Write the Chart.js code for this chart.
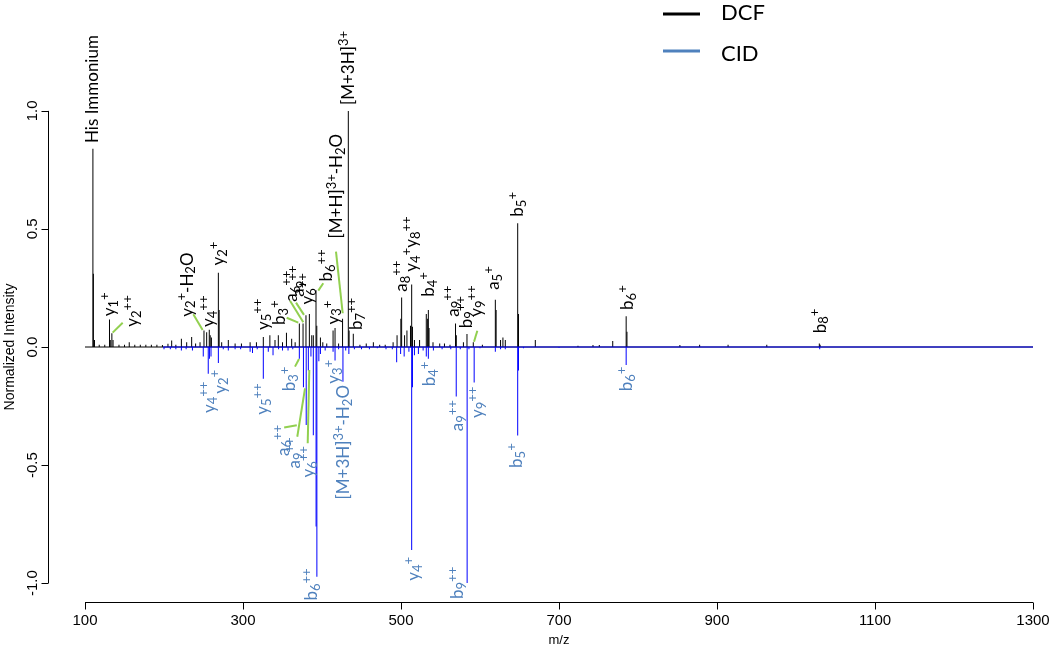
<!DOCTYPE html>
<html>
<head>
<meta charset="utf-8">
<script src="https://cdn.jsdelivr.net/npm/chart.js@4.4.1/dist/chart.umd.min.js"></script>
<style>
  html, body { margin: 0; padding: 0; background: #fff; overflow: hidden; }
  canvas { display: block; }
</style>
</head>
<body>
<canvas id="spec" width="1050" height="648"></canvas>
<script>
// DCF spectrum (drawn upward)
const dcfMz = [110.0, 110.6, 112, 118, 125, 131, 132, 134, 135.5, 143, 150, 156, 163, 170, 177, 184, 191, 198, 205, 209.7,
  215, 222, 228.7, 235, 240, 245.6, 250.6, 254, 257.3, 258.5, 260, 268.8, 269.8, 273, 281.4, 290, 298, 309, 317, 325.7,
  334, 340.5, 344.7, 350, 355, 361.6, 366, 371.3, 376, 379.7, 384, 387, 389, 392.4, 393.4, 398, 401, 406, 414, 416.5,
  421, 426, 433.3, 434.3, 439.6, 448, 456, 465, 473, 480, 490, 495, 499.8, 500.8, 504.5, 507.5, 512, 513.5, 514.5, 517,
  523.5, 532, 533.7, 534.6, 535.5, 540.5, 549, 555, 562, 569, 570, 579, 583.5, 591.5, 603, 619.4, 620.4, 626, 629, 632,
  647.7, 648.7, 670, 724, 743, 751, 768, 785, 786, 853, 878, 914, 963, 1029.5, 1030.5];
const dcfInt = [0.84, 0.31, 0.03, 0.01, 0.01, 0.117, 0.03, 0.058, 0.03, 0.01, 0.01, 0.02, 0.01, 0.01, 0.01, 0.01, 0.01, 0.008, 0.014, 0.028,
  0.01, 0.035, 0.02, 0.042, 0.015, 0.02, 0.07, 0.063, 0.073, 0.05, 0.04, 0.315, 0.157, 0.02, 0.03, 0.015, 0.015, 0.02, 0.02, 0.042,
  0.05, 0.03, 0.05, 0.02, 0.06, 0.035, 0.02, 0.10, 0.10, 0.134, 0.14, 0.05, 0.05, 0.24, 0.09, 0.04, 0.02, 0.015, 0.07, 0.08,
  0.015, 0.12, 1.0, 0.07, 0.056, 0.01, 0.015, 0.02, 0.01, 0.01, 0.02, 0.05, 0.12, 0.21, 0.05, 0.07, 0.09, 0.265, 0.086, 0.03,
  0.03, 0.14, 0.12, 0.157, 0.08, 0.02, 0.015, 0.015, 0.01, 0.10, 0.05, 0.02, 0.055, 0.02, 0.01, 0.20, 0.157, 0.03, 0.04, 0.03,
  0.524, 0.14, 0.03, 0.005, 0.008, 0.008, 0.025, 0.13, 0.065, 0.008, 0.01, 0.01, 0.01, 0.015, 0.01];

// CID spectrum (drawn downward)
const cidMz = [200, 208, 215, 222, 228, 236, 249.7, 256, 257.5, 259.5, 268.8, 275, 281.4, 290, 297, 309, 312, 318, 325.7, 332,
  338, 345, 350, 357, 363, 371.3, 376.5, 380, 382.7, 386, 389, 392.5, 393.5, 396, 398, 404, 414, 416.5, 421, 426.5,
  430, 434, 441, 450, 460, 470, 481, 489, 494.5, 499.5, 504, 510, 513.5, 514.5, 517, 522, 528, 532, 534.6, 541,
  552, 563, 569.9, 575, 583.7, 586, 592.6, 600, 619.4, 626, 632, 647.7, 648.7, 655, 700, 785, 1030];
const cidInt = [-0.01, -0.01, -0.01, -0.015, -0.01, -0.015, -0.04, -0.113, -0.05, -0.04, -0.068, -0.01, -0.015, -0.01, -0.01, -0.02, -0.025, -0.01, -0.134, -0.02,
  -0.035, -0.01, -0.015, -0.015, -0.01, -0.05, -0.17, -0.33, -0.10, -0.04, -0.374, -0.76, -0.973, -0.06, -0.03, -0.015, -0.02, -0.057, -0.01, -0.147,
  -0.015, -0.03, -0.01, -0.01, -0.01, -0.005, -0.01, -0.01, -0.065, -0.03, -0.04, -0.02, -0.86, -0.17, -0.035, -0.03, -0.015, -0.04, -0.05, -0.015,
  -0.01, -0.01, -0.21, -0.01, -1.0, -0.01, -0.15, -0.005, -0.02, -0.01, -0.01, -0.375, -0.1, -0.005, -0.003, -0.076, -0.01];

// zero lines of each spectrum (m/z range)
const dcfRange = [100, 1300];
const cidRange = [199, 1300];

// axes
const xTicks = [100, 300, 500, 700, 900, 1100, 1300];
const yTicks = [-1, -0.5, 0, 0.5, 1];
const yTickLabels = ['-1.0', '-0.5', '0.0', '0.5', '1.0'];

// ion annotations: text, m/z, intensity where the label starts
const dcfLabels = [
  ['His Immonium', 110.1, 0.864],
  ['y_1^+', 131.5, 0.13],
  ['y_2^{++}', 159.9, 0.086],
  ['y_2^+-H_2O', 229.5, 0.128],
  ['y_4^{++}', 256.5, 0.085],
  ['y_2^+', 268.8, 0.345],
  ['y_5^{++}', 325.7, 0.072],
  ['b_3^+', 346.8, 0.093],
  ['a_6^{++}', 361.6, 0.192],
  ['a_9^{++}', 370.0, 0.213],
  ['y_6^{++}', 381.4, 0.18],
  ['b_6^{++}', 405.9, 0.277],
  ['y_3^+', 414.0, 0.095],
  ['[M+H]^{3+}-H_2O', 418.6, 0.46],
  ['[M+3H]^{3+}', 433.3, 1.025],
  ['b_7^{++}', 443.9, 0.072],
  ['a_8^{++}', 500.8, 0.234],
  ['y_4^+y_8^{++}', 513.5, 0.319],
  ['b_4^+', 534.6, 0.213],
  ['a_9^{++}', 566.2, 0.128],
  ['b_9^{++}', 582.3, 0.079],
  ['y_9^{++}', 595.8, 0.128],
  ['a_5^+', 617.7, 0.242],
  ['b_5^+', 647.7, 0.552],
  ['b_6^+', 786.5, 0.157],
  ['b_8^+', 1030.4, 0.058]
];
// text, m/z, intensity where the label ends
const cidLabels = [
  ['y_4^{++}', 257.3, -0.147],
  ['y_2^+', 270.9, -0.097],
  ['y_5^{++}', 325.0, -0.154],
  ['b_3^+', 359.5, -0.083],
  ['a_6^{++}', 351.0, -0.33],
  ['a_9^{++}', 365.0, -0.383],
  ['y_6^{++}', 382.7, -0.42],
  ['b_6^{++}', 387.0, -0.938],
  ['y_3^+', 415.2, -0.055],
  ['[M+3H]^{3+}-H_2O', 427.0, -0.161],
  ['y_4^+', 515.6, -0.889],
  ['b_4^+', 536.7, -0.062],
  ['a_9^{++}', 571.7, -0.225],
  ['b_9^{++}', 571.3, -0.931],
  ['y_9^{++}', 597.0, -0.168],
  ['b_5^+', 646.5, -0.408],
  ['b_6^+', 785.7, -0.083]
];
// leader lines: m/z1, int1, m/z2, int2
const leaders = [
  [135, 0.061, 147.7, 0.103],
  [237.1, 0.139, 248.9, 0.072],
  [355.3, 0.124, 370, 0.103],
  [359.5, 0.196, 376.3, 0.105],
  [367.1, 0.188, 377.2, 0.136],
  [395.3, 0.239, 401.6, 0.27],
  [417.7, 0.404, 426.2, 0.143],
  [596.6, 0.069, 592.4, 0.022],
  [365.8, -0.083, 370.9, -0.051],
  [352.1, -0.341, 368.1, -0.331],
  [368.7, -0.38, 378.5, -0.175],
  [381.9, -0.408, 383.9, -0.097]
];

const LABEL_BLUE = '#4f81bd';
const LEADER_GREEN = '#92d050';
const labelFont = 'Lato, "Open Sans", sans-serif';
const axisFont = '"Liberation Sans", Arial, sans-serif';

// split "y_2^{++}" into normal / sub / sup pieces
function parseIon(str) {
  const parts = [];
  let i = 0, buf = '';
  while (i < str.length) {
    const c = str[i];
    if (c === '_' || c === '^') {
      if (buf) { parts.push({ t: buf, k: 0 }); buf = ''; }
      let t;
      if (str[i + 1] === '{') {
        const j = str.indexOf('}', i);
        t = str.slice(i + 2, j);
        i = j + 1;
      } else {
        t = str[i + 1];
        i += 2;
      }
      parts.push({ t: t, k: c === '_' ? 1 : 2 });
    } else {
      buf += c;
      i++;
    }
  }
  if (buf) parts.push({ t: buf, k: 0 });
  return parts;
}

function drawIon(ctx, str, x, y, alignEnd, color) {
  const size = 17;
  const small = 13;
  const parts = parseIon(str);
  ctx.save();
  ctx.translate(x, y);
  ctx.rotate(-Math.PI / 2);
  ctx.fillStyle = color;
  ctx.textBaseline = 'middle';
  ctx.textAlign = 'left';
  let w = 0;
  parts.forEach(p => {
    ctx.font = (p.k ? small : size) + 'px ' + labelFont;
    p.w = ctx.measureText(p.t).width;
    w += p.w;
  });
  let cx = alignEnd ? -w : 0;
  parts.forEach(p => {
    ctx.font = (p.k ? small : size) + 'px ' + labelFont;
    const dy = p.k === 1 ? 4 : (p.k === 2 ? -5 : 0);
    ctx.fillText(p.t, cx, dy);
    cx += p.w;
  });
  ctx.restore();
}

// R style axes, annotations and the legend
const decorations = {
  id: 'decorations',
  afterDraw(chart) {
    const ctx = chart.ctx;
    const xs = chart.scales.x, ys = chart.scales.y;
    const area = chart.chartArea;

    ctx.save();
    ctx.strokeStyle = '#000';
    ctx.lineWidth = 1;
    ctx.fillStyle = '#000';

    // x axis
    const yb = Math.round(area.bottom) + 0.5;
    ctx.beginPath();
    ctx.moveTo(xs.getPixelForValue(xTicks[0]), yb);
    ctx.lineTo(xs.getPixelForValue(xTicks[xTicks.length - 1]), yb);
    xTicks.forEach(t => {
      const px = Math.round(xs.getPixelForValue(t)) + 0.5;
      ctx.moveTo(px, yb);
      ctx.lineTo(px, yb + 7);
    });
    ctx.stroke();
    ctx.font = '15px ' + axisFont;
    ctx.textAlign = 'center';
    ctx.textBaseline = 'middle';
    xTicks.forEach(t => ctx.fillText(String(t), xs.getPixelForValue(t), 621));
    ctx.font = '13px ' + axisFont;
    ctx.fillText('m/z', (xs.getPixelForValue(100) + xs.getPixelForValue(1300)) / 2, 640);

    // y axis
    const xl = Math.round(area.left) + 0.5;
    ctx.beginPath();
    ctx.moveTo(xl, ys.getPixelForValue(yTicks[0]));
    ctx.lineTo(xl, ys.getPixelForValue(yTicks[yTicks.length - 1]));
    yTicks.forEach(t => {
      const py = Math.round(ys.getPixelForValue(t)) + 0.5;
      ctx.moveTo(xl, py);
      ctx.lineTo(xl - 7, py);
    });
    ctx.stroke();
    yTicks.forEach((t, i) => {
      ctx.save();
      ctx.translate(33, ys.getPixelForValue(t));
      ctx.rotate(-Math.PI / 2);
      ctx.font = '15px ' + axisFont;
      ctx.fillText(yTickLabels[i], 0, 0);
      ctx.restore();
    });
    ctx.save();
    ctx.translate(10, ys.getPixelForValue(0));
    ctx.rotate(-Math.PI / 2);
    ctx.font = '14px ' + axisFont;
    ctx.fillText('Normalized Intensity', 0, 0);
    ctx.restore();

    // leader lines
    ctx.strokeStyle = LEADER_GREEN;
    ctx.lineWidth = 2;
    leaders.forEach(l => {
      ctx.beginPath();
      ctx.moveTo(xs.getPixelForValue(l[0]), ys.getPixelForValue(l[1]));
      ctx.lineTo(xs.getPixelForValue(l[2]), ys.getPixelForValue(l[3]));
      ctx.stroke();
    });

    // ion labels
    dcfLabels.forEach(l => drawIon(ctx, l[0], xs.getPixelForValue(l[1]), ys.getPixelForValue(l[2]), false, '#000'));
    cidLabels.forEach(l => drawIon(ctx, l[0], xs.getPixelForValue(l[1]), ys.getPixelForValue(l[2]), true, LABEL_BLUE));

    // legend
    ctx.lineWidth = 3;
    ctx.strokeStyle = '#000';
    ctx.beginPath(); ctx.moveTo(663, 14); ctx.lineTo(700, 14); ctx.stroke();
    ctx.strokeStyle = LABEL_BLUE;
    ctx.beginPath(); ctx.moveTo(663, 51); ctx.lineTo(700, 51); ctx.stroke();
    ctx.fillStyle = '#000';
    ctx.font = '22px ' + labelFont;
    ctx.textAlign = 'left';
    ctx.textBaseline = 'middle';
    ctx.fillText('DCF', 721, 13);
    ctx.fillText('CID', 721, 54);
    ctx.restore();
  }
};

const ctx = document.getElementById('spec').getContext('2d');
const specChart = new Chart(ctx, {
  type: 'bar',
  data: {
    datasets: [{
      type: 'line',
      label: 'CID zero',
      data: cidRange.map(m => ({ x: m, y: 0 })),
      borderColor: '#0000ff',
      borderWidth: 1,
      pointRadius: 0,
      order: 1
    }, {
      label: 'CID',
      data: cidMz.map((m, i) => ({ x: m, y: cidInt[i] })),
      backgroundColor: '#0000ff',
      grouped: false,
      barPercentage: 100,
      maxBarThickness: 1,
      order: 2
    }, {
      type: 'line',
      label: 'DCF zero',
      data: dcfRange.map(m => ({ x: m, y: 0 })),
      borderColor: '#000',
      borderWidth: 1,
      pointRadius: 0,
      order: 3
    }, {
      label: 'DCF',
      data: dcfMz.map((m, i) => ({ x: m, y: dcfInt[i] })),
      backgroundColor: '#000',
      grouped: false,
      barPercentage: 100,
      maxBarThickness: 1,
      order: 4
    }]
  },
  options: {
    responsive: false,
    animation: false,
    layout: { padding: { left: 48, right: 0, top: 92, bottom: 46 } },
    plugins: { legend: { display: false }, tooltip: { enabled: false } },
    scales: {
      x: { type: 'linear', display: false, offset: false, bounds: 'data', min: 53.16, max: 1321.5 },
      y: { type: 'linear', display: false, bounds: 'data', min: -1.08, max: 1.08 }
    }
  },
  plugins: [decorations]
});
</script>
</body>
</html>
